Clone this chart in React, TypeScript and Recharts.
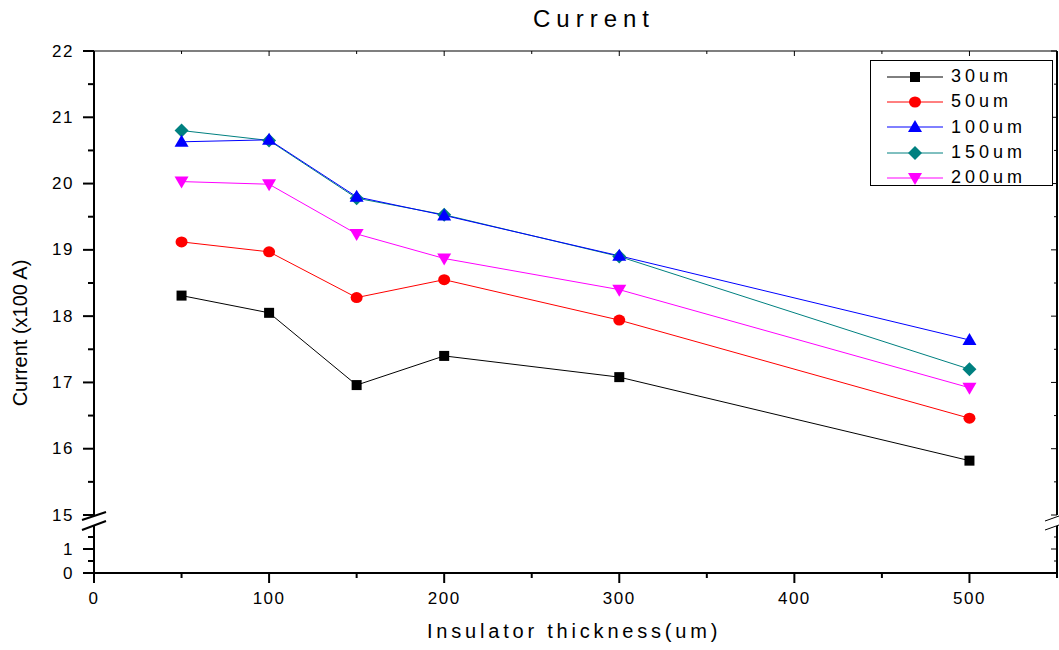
import { LineChart, Line, XAxis, YAxis } from 'recharts'

const thickness = [50, 100, 150, 200, 300, 500]
const s30 = [18.31, 18.05, 16.96, 17.4, 17.08, 15.82]
const s50 = [19.12, 18.97, 18.28, 18.55, 17.94, 16.46]
const s100 = [20.63, 20.66, 19.8, 19.52, 18.91, 17.64]
const s150 = [20.8, 20.65, 19.78, 19.53, 18.9, 17.2]
const s200 = [20.03, 19.99, 19.24, 18.87, 18.4, 16.92]

const xTicks = [0, 50, 100, 150, 200, 250, 300, 350, 400, 450, 500, 550]
const yTicksUpper = [15, 15.5, 16, 16.5, 17, 17.5, 18, 18.5, 19, 19.5, 20, 20.5, 21, 21.5, 22]
const yTicksLower = [0, 0.5, 1, 1.5]

const data = thickness.map((t, i) => ({
  t,
  s30: s30[i],
  s50: s50[i],
  s100: s100[i],
  s150: s150[i],
  s200: s200[i],
}))

const series = [
  { key: 's30', name: '30um', color: '#000000', shape: 'square' },
  { key: 's50', name: '50um', color: '#FF0000', shape: 'circle' },
  { key: 's100', name: '100um', color: '#0000FF', shape: 'triUp' },
  { key: 's150', name: '150um', color: '#008080', shape: 'diamond' },
  { key: 's200', name: '200um', color: '#FF00FF', shape: 'triDown' },
]
// teal drawn under blue like the original
const drawOrder = ['s30', 's50', 's150', 's100', 's200']

const font = '"Liberation Sans", Arial, sans-serif'

function Marker({ cx, cy, shape, color }: any) {
  if (cx == null || cy == null) return null
  if (shape === 'square') return <rect x={cx - 5} y={cy - 5} width={10} height={10} fill={color} />
  if (shape === 'circle') return <ellipse cx={cx} cy={cy} rx={6} ry={5.5} fill={color} />
  if (shape === 'triUp')
    return <polygon points={`${cx},${cy - 7} ${cx + 7},${cy + 5} ${cx - 7},${cy + 5}`} fill={color} />
  if (shape === 'triDown')
    return <polygon points={`${cx},${cy + 7} ${cx + 7},${cy - 5} ${cx - 7},${cy - 5}`} fill={color} />
  return <polygon points={`${cx},${cy - 7} ${cx + 7},${cy} ${cx},${cy + 7} ${cx - 7},${cy}`} fill={color} />
}

function LeftTick({ x, y, payload }: any) {
  const major = Number.isInteger(payload.value)
  return (
    <g>
      <line x1={x - (major ? 11 : 6)} y1={y} x2={x} y2={y} stroke="#000" strokeWidth={2} />
      {major && (
        <text x={x - 20} y={y} textAnchor="end" dominantBaseline="central" fontSize={17} letterSpacing={1.5} fill="#000" fontFamily={font}>
          {payload.value}
        </text>
      )}
    </g>
  )
}

function RightTick({ x, y, payload }: any) {
  const major = Number.isInteger(payload.value)
  return <line x1={x} y1={y} x2={x - (major ? 6 : 3)} y2={y} stroke="#000" strokeWidth={1} />
}

function BottomTick({ x, y, payload }: any) {
  const major = payload.value % 100 === 0
  return (
    <g>
      <line x1={x} y1={y} x2={x} y2={y + (major ? 10 : 5)} stroke="#000" strokeWidth={2} />
      {major && (
        <text x={x} y={y + 25} textAnchor="middle" dominantBaseline="central" fontSize={17} letterSpacing={1.5} fill="#000" fontFamily={font}>
          {payload.value}
        </text>
      )}
    </g>
  )
}

function TopTick({ x, y, payload }: any) {
  const major = payload.value % 100 === 0
  return <line x1={x} y1={y} x2={x} y2={y + (major ? 5 : 3)} stroke="#000" strokeWidth={1} />
}

function LegendBox() {
  return (
    <div style={{ position: 'absolute', left: 870, top: 60, border: '1.5px solid #000', background: '#fff', width: 183, height: 126, boxSizing: 'border-box', paddingTop: 3 }}>
      {series.map((s) => (
        <div key={s.key} style={{ display: 'flex', alignItems: 'center', height: 25.3 }}>
          <svg width={80} height={20} style={{ flex: 'none' }}>
            <line x1={16} y1={10} x2={72} y2={10} stroke={s.color} strokeWidth={1} />
            <Marker cx={44} cy={10} shape={s.shape} color={s.color} />
          </svg>
          <span style={{ fontFamily: font, fontSize: 18, letterSpacing: 4, color: '#000' }}>{s.name}</span>
        </div>
      ))}
    </div>
  )
}

function Breaks() {
  return (
    <svg width={1059} height={650} style={{ position: 'absolute', left: 0, top: 0, pointerEvents: 'none' }}>
      <rect x={85} y={517} width={18} height={8} fill="#fff" />
      <line x1={82} y1={520} x2={106} y2={512} stroke="#000" strokeWidth={2} />
      <line x1={82} y1={530} x2={106} y2={521} stroke="#000" strokeWidth={2} />
      <rect x={1050} y={518} width={9} height={8} fill="#fff" />
      <line x1={1045} y1={521} x2={1059} y2={516} stroke="#000" strokeWidth={1} />
      <line x1={1045} y1={530} x2={1059} y2={525} stroke="#000" strokeWidth={1} />
    </svg>
  )
}

export default function App() {
  return (
    <div style={{ position: 'absolute', left: 0, top: 0, width: 1059, height: 650, background: '#fff', fontFamily: font }}>
      <div style={{ position: 'absolute', left: 533, top: 5, fontSize: 24, letterSpacing: 6, color: '#000' }}>Current</div>
      <div style={{ position: 'absolute', left: 0, top: 520 }}>
        <LineChart width={1059} height={130} data={data} margin={{ top: 5, right: 0, bottom: 47, left: 34 }}>
          <XAxis
            dataKey="t"
            type="number"
            domain={[0, 550]}
            allowDataOverflow
            ticks={xTicks}
            interval={0}
            height={30}
            tickSize={0}
            tickMargin={0}
            tickLine={false}
            tick={<BottomTick />}
            axisLine={{ stroke: '#000', strokeWidth: 2 }}
          />
          <YAxis
            yAxisId="left"
            type="number"
            domain={[0, 2]}
            allowDataOverflow
            ticks={yTicksLower}
            interval={0}
            width={60}
            tickSize={0}
            tickMargin={0}
            tickLine={false}
            tick={<LeftTick />}
            axisLine={{ stroke: '#000', strokeWidth: 2 }}
          />
          <YAxis
            yAxisId="right"
            orientation="right"
            type="number"
            domain={[0, 2]}
            allowDataOverflow
            ticks={yTicksLower}
            interval={0}
            width={2}
            tickSize={0}
            tickMargin={0}
            tickLine={false}
            tick={<RightTick />}
            axisLine={{ stroke: '#000', strokeWidth: 2 }}
          />
        </LineChart>
      </div>
      <div style={{ position: 'absolute', left: 0, top: 0 }}>
        <LineChart width={1059} height={530} data={data} margin={{ top: 41, right: 0, bottom: 15, left: 34 }}>
          <XAxis
            xAxisId="top"
            orientation="top"
            dataKey="t"
            type="number"
            domain={[0, 550]}
            allowDataOverflow
            ticks={xTicks}
            interval={0}
            height={10}
            tickSize={0}
            tickMargin={0}
            tickLine={false}
            tick={<TopTick />}
            axisLine={{ stroke: '#555', strokeWidth: 1.5 }}
          />
          <YAxis
            yAxisId="left"
            type="number"
            domain={[15, 22]}
            allowDataOverflow
            ticks={yTicksUpper}
            interval={0}
            width={60}
            tickSize={0}
            tickMargin={0}
            tickLine={false}
            tick={<LeftTick />}
            axisLine={{ stroke: '#000', strokeWidth: 2 }}
            label={{
              content: () => {
                const cx = 20
                const cy = 333
                return (
                  <text x={cx} y={cy} transform={`rotate(-90 ${cx} ${cy})`} textAnchor="middle" dominantBaseline="central" fontSize={20} fill="#000" fontFamily={font}>
                    Current (x100 A)
                  </text>
                )
              },
            }}
          />
          <YAxis
            yAxisId="right"
            orientation="right"
            type="number"
            domain={[15, 22]}
            allowDataOverflow
            ticks={yTicksUpper}
            interval={0}
            width={2}
            tickSize={0}
            tickMargin={0}
            tickLine={false}
            tick={<RightTick />}
            axisLine={{ stroke: '#000', strokeWidth: 2 }}
          />
          {drawOrder.map((k) => {
            const s = series.find((x) => x.key === k)!
            return (
              <Line
                key={k}
                xAxisId="top"
                yAxisId="left"
                type="linear"
                dataKey={k}
                name={s.name}
                stroke={s.color}
                strokeWidth={1}
                isAnimationActive={false}
                dot={(p: any) => <Marker key={`${k}-${p.index}`} cx={p.cx} cy={p.cy} shape={s.shape} color={s.color} />}
                activeDot={false}
              />
            )
          })}
        </LineChart>
      </div>
      <div style={{ position: 'absolute', left: 427, top: 620, fontSize: 20, letterSpacing: 3.8, color: '#000' }}>
        Insulator thickness(um)
      </div>
      <LegendBox />
      <Breaks />
    </div>
  )
}
